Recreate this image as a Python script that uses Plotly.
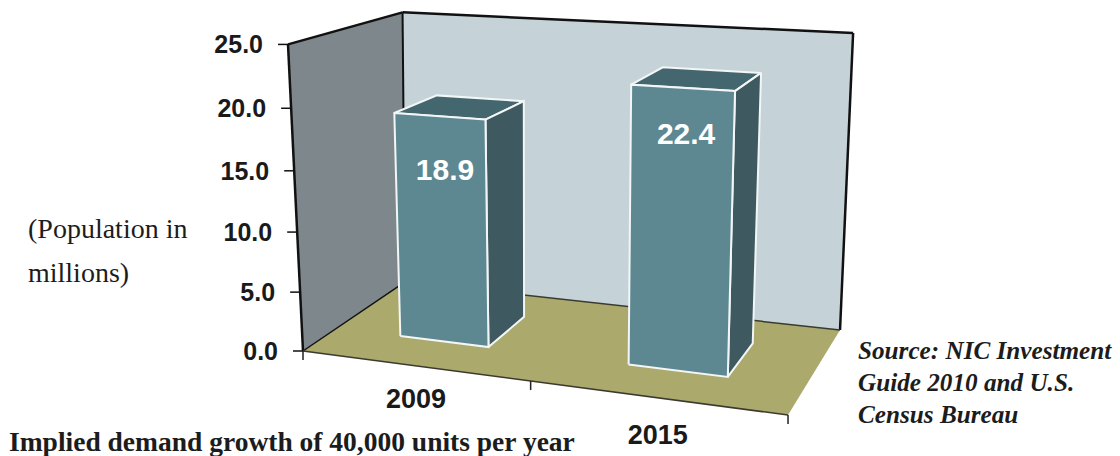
import plotly.graph_objects as go

# ---- data ----
CATEGORIES = ["2009", "2015"]
VALUES = [18.9, 22.4]
VALUE_LABELS = ["18.9", "22.4"]
Y_TICKS = [0, 5, 10, 15, 20, 25]
Y_TICK_LABELS = ["0.0", "5.0", "10.0", "15.0", "20.0", "25.0"]
Y_MAX = 25.0
LABEL_DROP = [4.6, 3.7]

# ---- projective camera for the chart box (u along categories, w depth, v value share) ----
A, B, K, C = 394.0, 154.2, -29.4, 303.0
D, E, L, F = 16.1, -32.7, -305.0, 351.0
G, H, M = -0.1155, 0.1288, -0.05


def project(u, w, value=0.0):
    v = value / Y_MAX
    den = G * u + H * w + M * v + 1
    x = (A * u + B * w + K * v + C) / den + 6 * (1 - u) * w * v
    y = (D * u + E * w + L * v + F) / den + v * (-4 * (1 - u) * (1 - w) + 2.5 * u * w)
    return x, y


BAR_WIDTH = 0.2
BAR_W0, BAR_W1 = 0.305, 0.715

fig = go.Figure()


def poly(corners, fill, line_color="rgba(0,0,0,0)", line_width=0):
    pts = [project(*c) for c in corners]
    xs = [p[0] for p in pts] + [pts[0][0]]
    ys = [p[1] for p in pts] + [pts[0][1]]
    fig.add_trace(go.Scatter(x=xs, y=ys, mode="lines", fill="toself", fillcolor=fill,
                             line=dict(color=line_color, width=line_width),
                             hoverinfo="skip", showlegend=False))


def seg(a, b, color="#111111", width=2.0):
    p, q = project(*a), project(*b)
    fig.add_trace(go.Scatter(x=[p[0], q[0]], y=[p[1], q[1]], mode="lines",
                             line=dict(color=color, width=width),
                             hoverinfo="skip", showlegend=False))


# walls and floor
poly([(0, 1, 0), (1, 1, 0), (1, 1, Y_MAX), (0, 1, Y_MAX)], "#c5d3d9")
poly([(0, 0, 0), (0, 1, 0), (0, 1, Y_MAX), (0, 0, Y_MAX)], "#7e888c")
poly([(0, 0, 0), (1, 0, 0), (1, 1, 0), (0, 1, 0)], "#aca96c")

seg((0, 0, 0), (0, 0, Y_MAX), width=2.5)
seg((0, 0, Y_MAX), (0, 1, Y_MAX), width=2.5)
seg((0, 1, Y_MAX), (1, 1, Y_MAX), width=2.5)
seg((0, 1, 0), (0, 1, Y_MAX), width=2)
seg((1, 1, 0), (1, 1, Y_MAX), width=2.5)
seg((0, 0, 0), (0, 1, 0), width=1.5)
seg((0, 1, 0), (1, 1, 0), color="#3a3a30", width=1.5)
seg((0, 0, 0), (1, 0, 0), color="#3a3a30", width=1.5)

# value-axis ticks and labels
tx, ty = [], []
for t in Y_TICKS:
    x0, y0 = project(0, 0, t)
    fig.add_trace(go.Scatter(x=[x0 - 10, x0], y=[y0, y0], mode="lines",
                             line=dict(color="#111111", width=1.5),
                             hoverinfo="skip", showlegend=False))
    tx.append(x0 - 25)
    ty.append(y0 + 2.5)
fig.add_trace(go.Scatter(x=tx, y=ty, mode="text", text=Y_TICK_LABELS, textposition="middle left",
                         textfont=dict(family="Liberation Sans", size=25, color="#1a1a1a", weight="bold"),
                         hoverinfo="skip", showlegend=False))

# category ticks
for u in [0, 0.5, 1]:
    x0, y0 = project(u, 0, 0)
    fig.add_trace(go.Scatter(x=[x0, x0], y=[y0, y0 + 9], mode="lines",
                             line=dict(color="#222222", width=1.5),
                             hoverinfo="skip", showlegend=False))

# bars
for i, val in enumerate(VALUES):
    c = (i + 0.5) / len(VALUES)
    u0, u1 = c - BAR_WIDTH / 2, c + BAR_WIDTH / 2
    edge = "#f2f6f6"
    poly([(u0, BAR_W0, val), (u1, BAR_W0, val), (u1, BAR_W1, val), (u0, BAR_W1, val)], "#44666e", edge, 2)
    poly([(u1, BAR_W0, 0), (u1, BAR_W1, 0), (u1, BAR_W1, val), (u1, BAR_W0, val)], "#3e5a60", edge, 2)
    poly([(u0, BAR_W0, 0), (u1, BAR_W0, 0), (u1, BAR_W0, val), (u0, BAR_W0, val)], "#5d8892", edge, 2)

# value labels on bars
lx, ly = [], []
for i, val in enumerate(VALUES):
    c = (i + 0.5) / len(VALUES)
    p = project(c, BAR_W0, val - LABEL_DROP[i])
    lx.append(p[0] + 4.5)
    ly.append(p[1])
fig.add_trace(go.Scatter(x=lx, y=ly, mode="text", text=VALUE_LABELS, textposition="middle center",
                         textfont=dict(family="Liberation Sans", size=30, color="#ffffff", weight="bold"),
                         hoverinfo="skip", showlegend=False))

# category labels
cx, cy = [], []
for i in range(len(CATEGORIES)):
    c = (i + 0.5) / len(CATEGORIES)
    p = project(c, 0, 0)
    cx.append(p[0] + 2.5)
    cy.append(p[1] + 33.9 + 8 * c)
fig.add_trace(go.Scatter(x=cx, y=cy, mode="text", text=CATEGORIES, textposition="middle center",
                         textfont=dict(family="Liberation Sans", size=27, color="#1a1a1a", weight="bold"),
                         hoverinfo="skip", showlegend=False))


def note(x, y, s, size, bold=False, italic=False):
    fig.add_annotation(x=x, y=y, xref="x", yref="y", text=s, showarrow=False, xanchor="left", yanchor="middle",
                       font=dict(family="Liberation Serif", size=size, color="#1c1c1c",
                                 weight="bold" if bold else "normal", style="italic" if italic else "normal"))


note(26, 228, "(Population in", 28)
note(26, 272, "millions)", 28)
note(7, 441, "Implied demand growth of 40,000 units per year", 27.5, bold=True)
note(856, 350, "Source: NIC Investment", 25.2, bold=True, italic=True)
note(856, 382, "Guide 2010 and U.S.", 25.2, bold=True, italic=True)
note(856, 414, "Census Bureau", 25.2, bold=True, italic=True)

fig.update_layout(
    width=1120, height=456, margin=dict(l=0, r=0, t=0, b=0),
    paper_bgcolor="#ffffff", plot_bgcolor="#ffffff", showlegend=False, hovermode=False,
    xaxis=dict(range=[0, 1120], visible=False, fixedrange=True),
    yaxis=dict(range=[456, 0], visible=False, fixedrange=True),
)
fig.write_html("out.html", config={"displayModeBar": False},
               post_script="document.body.style.margin='0';document.body.style.overflow='hidden';")
